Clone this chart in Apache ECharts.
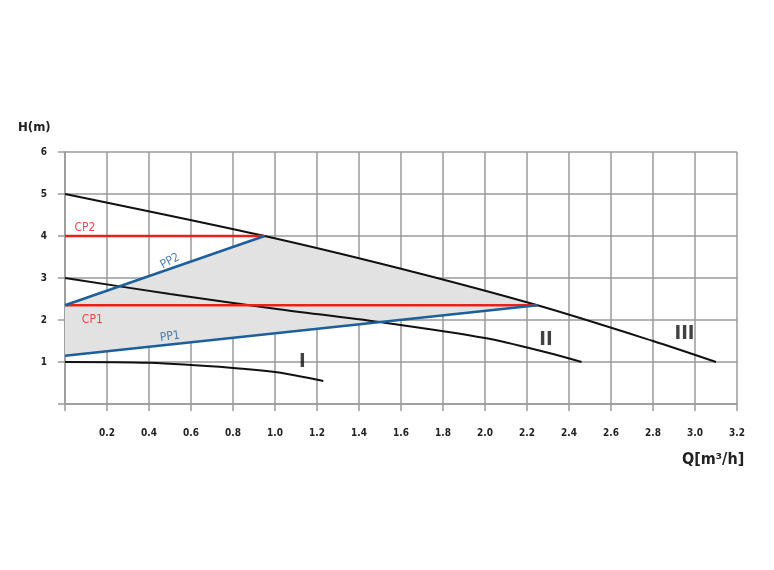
<!DOCTYPE html>
<html><head><meta charset="utf-8">
<script src="https://cdn.jsdelivr.net/npm/echarts@6/dist/echarts.min.js"></script>
<style>html,body{margin:0;padding:0;background:#fff}#c{width:774px;height:570px}</style>
</head><body><div id="c"></div>
<script>
const curveI = [[0,1],[0.4,0.98],[0.8,0.86],[1.0,0.76],[1.23,0.55]];
const curveII = [[0,3],[0.5,2.62],[1.0,2.27],[1.5,1.95],[2.0,1.57],[2.3,1.22],[2.46,1.0]];
const curveIII = [[0,5],[0.95,4.0],[1.6,3.22],[2.25,2.35],[2.8,1.5],[3.1,1.0]];
const cp2 = [[0,4],[0.95,4]];
const cp1 = [[0,2.35],[2.25,2.35]];
const pp2 = [[0,2.35],[0.95,4]];
const pp1 = [[0,1.15],[2.25,2.35]];
const area = [[0,1.15],[2.25,2.35],[1.6,3.22],[0.95,4.0],[0,2.35]];
const labels = [
  {name:'CP2',value:[0.095,4.2],color:'#e8221c',rot:0},
  {name:'CP1',value:[0.13,2.0],color:'#e8221c',rot:0},
  {name:'PP2',value:[0.5,3.4],color:'#1d5f9a',rot:28},
  {name:'PP1',value:[0.5,1.6],color:'#1d5f9a',rot:8},
  {name:'I',value:[1.13,1.0],color:'#111',rot:0,big:true},
  {name:'II',value:[2.29,1.52],color:'#111',rot:0,big:true},
  {name:'III',value:[2.95,1.66],color:'#111',rot:0,big:true}
];
const gridColor = '#9a9a9a';
const ch = echarts.init(document.getElementById('c'));
function line(data, color, w){return {type:'line',data,smooth:0.3,symbol:'none',lineStyle:{color,width:w||2},z:3,animation:false};}
ch.setOption({
  animation:false,
  grid:{left:65,right:37,top:152,bottom:166},
  xAxis:{type:'value',min:0,max:3.2,interval:0.2,
    axisLine:{lineStyle:{color:gridColor,width:1.5}},
    axisTick:{show:true,length:7,lineStyle:{color:gridColor,width:1.5}},
    splitLine:{lineStyle:{color:gridColor,width:1.5}},
    axisLabel:{margin:24,color:'#222',fontWeight:'bold',fontSize:10,fontFamily:'DejaVu Sans Condensed, Liberation Sans',formatter:v=>v===0?'':v.toFixed(1)}},
  yAxis:{type:'value',min:0,max:6,interval:1,
    axisLine:{lineStyle:{color:gridColor,width:1.5}},
    axisTick:{show:true,length:7,lineStyle:{color:gridColor,width:1.5}},
    splitLine:{lineStyle:{color:gridColor,width:1.5}},
    axisLabel:{margin:18,color:'#222',fontWeight:'bold',fontSize:10,fontFamily:'DejaVu Sans Condensed, Liberation Sans',formatter:v=>v===0?'':String(v)}},
  graphic:[
    {type:'text',left:18,top:121,style:{text:'H(m)',font:'bold 13px "DejaVu Sans Condensed", sans-serif',fill:'#222'}},
    {type:'text',left:682,top:452,style:{text:'Q[m³/h]',font:'bold 16px "DejaVu Sans Condensed", sans-serif',fill:'#222'}}
  ],
  series:[
    {type:'custom',z:1,data:[0],renderItem:(p,api)=>({type:'polygon',shape:{points:area.map(a=>api.coord(a)),smooth:0},style:{fill:'#e2e2e2'}})},
    line(curveI,'#111'), line(curveII,'#111'), line(curveIII,'#111'),
    {type:'line',data:cp2,symbol:'none',lineStyle:{color:'#e8221c',width:2.5},z:4},
    {type:'line',data:cp1,symbol:'none',lineStyle:{color:'#e8221c',width:2.5},z:4},
    {type:'line',data:pp2,symbol:'none',lineStyle:{color:'#1d5f9a',width:2.5},z:5},
    {type:'line',data:pp1,symbol:'none',lineStyle:{color:'#1d5f9a',width:2.5},z:5},
    {type:'scatter',symbolSize:0,z:6,data:labels.map(l=>({name:l.name,value:l.value,label:{show:true,position:'inside',formatter:'{b}',color:l.color,rotate:l.rot,fontSize:l.big?20:12,fontWeight:l.big?'bold':'normal',fontFamily:'DejaVu Sans Condensed, sans-serif'}}))}
  ]
});
</script></body></html>
